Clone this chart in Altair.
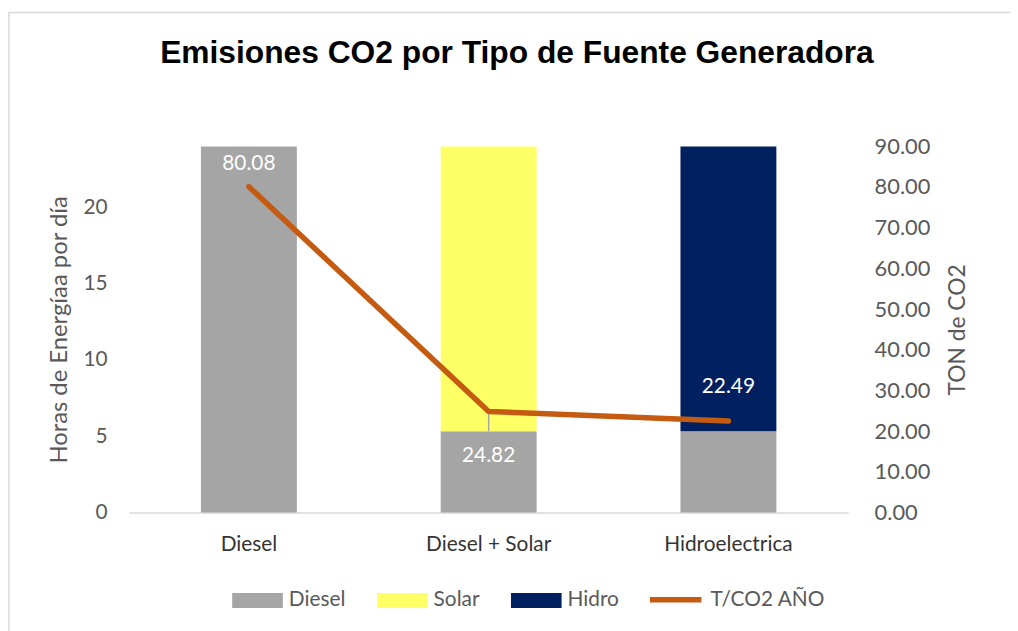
import altair as alt
import pandas as pd

# ---- data ----
categories = ["Diesel", "Diesel + Solar", "Hidroelectrica"]
sources = ["Diesel", "Solar", "Hidro"]
diesel_hours = [24.0, 5.33, 5.33]
solar_hours = [0.0, 18.67, 0.0]
hidro_hours = [0.0, 0.0, 18.67]
co2_tons = [80.08, 24.82, 22.49]
line_series = "T/CO2 AÑO"
left_ticks = [0, 5, 10, 15, 20]
right_ticks = [0, 10, 20, 30, 40, 50, 60, 70, 80, 90]
chart_title = "Emisiones CO2 por Tipo de Fuente Generadora"

# ---- style ----
FONT = "Lato"
GRAY_TXT = "#595959"
bar_colors = ["#A5A5A5", "#FFFF66", "#002060"]
line_color = "#C55A11"

rows = []
for i, c in enumerate(categories):
    for k, (s, vals) in enumerate(zip(sources, [diesel_hours, solar_hours, hidro_hours])):
        if vals[i] > 0:
            rows.append({"category": c, "source": s, "hours": vals[i], "stack_order": k})
bars_df = pd.DataFrame(rows)

line_df = pd.DataFrame({
    "category": categories,
    "co2": co2_tons,
    "diesel": diesel_hours,
    "serie": [line_series] * len(categories),
})

x_enc = alt.X(
    "category:N",
    sort=categories,
    scale=alt.Scale(paddingInner=0.6, paddingOuter=0.3),
    axis=alt.Axis(
        title=None, labelAngle=0, labelFont=FONT, labelFontSize=21,
        labelColor="#333333", labelPadding=21, ticks=False,
        domainColor="#D9D9D9", domainWidth=1.5,
    ),
)

bars = alt.Chart(bars_df).mark_bar().encode(
    x=x_enc,
    y=alt.Y(
        "hours:Q", stack="zero",
        scale=alt.Scale(domain=[0, 24], nice=False),
        axis=alt.Axis(
            values=left_ticks, title="Horas de Energíaa por día",
            titleFont=FONT, titleFontSize=24, titleFontWeight="normal",
            titleColor=GRAY_TXT, titlePadding=12,
            labelFont=FONT, labelFontSize=21, labelColor=GRAY_TXT,
            labelPadding=22, ticks=False, domain=False, grid=False,
        ),
    ),
    color=alt.Color(
        "source:N",
        scale=alt.Scale(domain=sources, range=bar_colors),
        legend=alt.Legend(
            title=None, orient="none", legendX=104, legendY=432,
            direction="horizontal", padding=0,
            symbolType="M-1,-0.3L1,-0.3L1,0.3L-1,0.3Z", symbolSize=2601,
            symbolStrokeWidth=0, symbolOpacity=1,
            labelFont=FONT, labelFontSize=21, labelColor=GRAY_TXT,
            labelOffset=6, columnPadding=31,
        ),
    ),
    order=alt.Order("stack_order:Q"),
)

y_right = alt.Y(
    "co2:Q",
    title="TON de CO2",
    scale=alt.Scale(domain=[0, 90], nice=False),
    axis=alt.Axis(
        orient="right", values=right_ticks, format=".2f",
        titleFont=FONT, titleFontSize=23, titleFontWeight="normal",
        titleColor=GRAY_TXT, titlePadding=40, titleAngle=270,
        labelFont=FONT, labelFontSize=22, labelColor=GRAY_TXT,
        labelPadding=26, ticks=False, domain=False, grid=False,
    ),
)
y_right_plain = alt.Y("co2:Q", title="TON de CO2")

base_line = alt.Chart(line_df)

leader = base_line.transform_filter(
    alt.datum.category == "Diesel + Solar"
).transform_calculate(
    diesel_right="datum.diesel * 90 / 24"
).mark_rule(color="#A5A5A5", strokeWidth=1.5).encode(
    x=alt.X("category:N", sort=categories),
    y=y_right,
    y2="diesel_right:Q",
)

line = base_line.mark_line(strokeWidth=5.5, strokeCap="round", strokeJoin="round").encode(
    x=alt.X("category:N", sort=categories),
    y=y_right,
    stroke=alt.Stroke(
        "serie:N",
        scale=alt.Scale(domain=[line_series], range=[line_color]),
        legend=alt.Legend(
            title=None, orient="none", legendX=522, legendY=428,
            direction="horizontal", padding=0,
            symbolType="stroke", symbolSize=2700, symbolStrokeWidth=5.5,
            labelFont=FONT, labelFontSize=21, labelColor=GRAY_TXT,
            labelOffset=6,
        ),
    ),
)

def label_layer(cat, dy):
    return base_line.transform_filter(alt.datum.category == cat).mark_text(
        font=FONT, fontSize=21, color="white", baseline="middle", dy=dy
    ).encode(
        x=alt.X("category:N", sort=categories),
        y=y_right_plain,
        text=alt.Text("co2:Q", format=".2f"),
    )

labels = [
    label_layer(categories[0], -23),
    label_layer(categories[1], 45),
    label_layer(categories[2], -34),
]

right = alt.layer(leader, line, *labels)

deco_df = pd.DataFrame({"k": [0]})
border = alt.Chart(deco_df).mark_rect(
    fill=None, stroke="#D9D9D9", strokeWidth=1.5
).encode(
    x=alt.value(-121), x2=alt.value(1000), y=alt.value(-135), y2=alt.value(600)
)

title = alt.Chart(deco_df).mark_text(
    font="Liberation Sans", fontSize=32, fontWeight="bold", color="black",
    align="center", baseline="alphabetic",
).encode(
    x=alt.value(391), y=alt.value(-84), text=alt.value(chart_title)
)

chart = alt.layer(border, title, bars, right).resolve_scale(
    y="independent", color="independent"
).properties(
    width=725,
    height=369,
    padding={"left": 122, "top": 137, "right": 163, "bottom": 117},
    autosize=alt.AutoSizeParams(type="none"),
    background="white",
).configure_view(strokeWidth=0, stroke=None)

chart.save("out.html", embed_options={"renderer": "svg", "actions": False})
